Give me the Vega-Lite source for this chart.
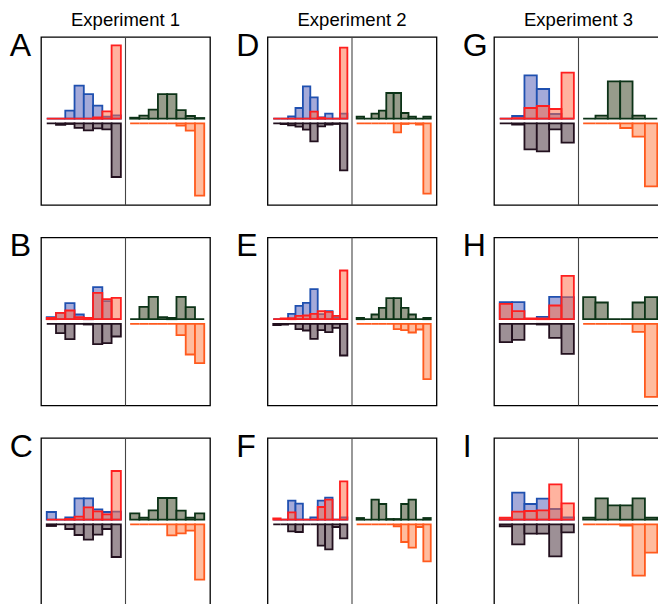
{
"$schema": "https://vega.github.io/schema/vega-lite/v6.json",
"padding": {"left": 9, "top": 10, "right": 0, "bottom": 0},
"bounds": "flush",
"data": {"values": [
{"p":"A","s":"b","i":0,"v":0},{"p":"A","s":"b","i":1,"v":0},{"p":"A","s":"b","i":2,"v":8},{"p":"A","s":"b","i":3,"v":33},{"p":"A","s":"b","i":4,"v":24.6},{"p":"A","s":"b","i":5,"v":13},{"p":"A","s":"b","i":6,"v":2},{"p":"A","s":"b","i":7,"v":3.3},
{"p":"A","s":"r","i":0,"v":0},{"p":"A","s":"r","i":1,"v":0},{"p":"A","s":"r","i":2,"v":0},{"p":"A","s":"r","i":3,"v":0},{"p":"A","s":"r","i":4,"v":0},{"p":"A","s":"r","i":5,"v":1.3},{"p":"A","s":"r","i":6,"v":7.3},{"p":"A","s":"r","i":7,"v":73.3},
{"p":"A","s":"k","i":0,"v":0},{"p":"A","s":"k","i":1,"v":1.5},{"p":"A","s":"k","i":2,"v":0.7},{"p":"A","s":"k","i":3,"v":4.5},{"p":"A","s":"k","i":4,"v":7},{"p":"A","s":"k","i":5,"v":5},{"p":"A","s":"k","i":6,"v":6},{"p":"A","s":"k","i":7,"v":53.7},
{"p":"A","s":"g","i":0,"v":1},{"p":"A","s":"g","i":1,"v":3},{"p":"A","s":"g","i":2,"v":9},{"p":"A","s":"g","i":3,"v":24.5},{"p":"A","s":"g","i":4,"v":24.5},{"p":"A","s":"g","i":5,"v":8.5},{"p":"A","s":"g","i":6,"v":2.7},{"p":"A","s":"g","i":7,"v":0.7},
{"p":"A","s":"o","i":0,"v":0},{"p":"A","s":"o","i":1,"v":0},{"p":"A","s":"o","i":2,"v":0},{"p":"A","s":"o","i":3,"v":0},{"p":"A","s":"o","i":4,"v":0},{"p":"A","s":"o","i":5,"v":2.3},{"p":"A","s":"o","i":6,"v":7.3},{"p":"A","s":"o","i":7,"v":72.3},
{"p":"B","s":"b","i":0,"v":2},{"p":"B","s":"b","i":1,"v":6.3},{"p":"B","s":"b","i":2,"v":16},{"p":"B","s":"b","i":3,"v":4.7},{"p":"B","s":"b","i":4,"v":1.3},{"p":"B","s":"b","i":5,"v":32},{"p":"B","s":"b","i":6,"v":18},{"p":"B","s":"b","i":7,"v":0},
{"p":"B","s":"r","i":0,"v":1.3},{"p":"B","s":"r","i":1,"v":6.3},{"p":"B","s":"r","i":2,"v":8.7},{"p":"B","s":"r","i":3,"v":2},{"p":"B","s":"r","i":4,"v":1.3},{"p":"B","s":"r","i":5,"v":26.3},{"p":"B","s":"r","i":6,"v":20},{"p":"B","s":"r","i":7,"v":21.3},
{"p":"B","s":"k","i":0,"v":0},{"p":"B","s":"k","i":1,"v":9.3},{"p":"B","s":"k","i":2,"v":15.3},{"p":"B","s":"k","i":3,"v":0},{"p":"B","s":"k","i":4,"v":0.7},{"p":"B","s":"k","i":5,"v":20.3},{"p":"B","s":"k","i":6,"v":19.3},{"p":"B","s":"k","i":7,"v":12.7},
{"p":"B","s":"g","i":0,"v":0},{"p":"B","s":"g","i":1,"v":12.3},{"p":"B","s":"g","i":2,"v":22.3},{"p":"B","s":"g","i":3,"v":2},{"p":"B","s":"g","i":4,"v":1.3},{"p":"B","s":"g","i":5,"v":22.3},{"p":"B","s":"g","i":6,"v":12},{"p":"B","s":"g","i":7,"v":0},
{"p":"B","s":"o","i":0,"v":0},{"p":"B","s":"o","i":1,"v":0},{"p":"B","s":"o","i":2,"v":0},{"p":"B","s":"o","i":3,"v":0},{"p":"B","s":"o","i":4,"v":0},{"p":"B","s":"o","i":5,"v":11.3},{"p":"B","s":"o","i":6,"v":30.7},{"p":"B","s":"o","i":7,"v":39.3},
{"p":"C","s":"b","i":0,"v":7.7},{"p":"C","s":"b","i":1,"v":0},{"p":"C","s":"b","i":2,"v":2.3},{"p":"C","s":"b","i":3,"v":21.3},{"p":"C","s":"b","i":4,"v":21.3},{"p":"C","s":"b","i":5,"v":10.3},{"p":"C","s":"b","i":6,"v":7.7},{"p":"C","s":"b","i":7,"v":8},
{"p":"C","s":"r","i":0,"v":0},{"p":"C","s":"r","i":1,"v":0},{"p":"C","s":"r","i":2,"v":0.7},{"p":"C","s":"r","i":3,"v":3},{"p":"C","s":"r","i":4,"v":12.3},{"p":"C","s":"r","i":5,"v":8.3},{"p":"C","s":"r","i":6,"v":5.3},{"p":"C","s":"r","i":7,"v":48.7},
{"p":"C","s":"k","i":0,"v":1.7},{"p":"C","s":"k","i":1,"v":0},{"p":"C","s":"k","i":2,"v":4.7},{"p":"C","s":"k","i":3,"v":10.7},{"p":"C","s":"k","i":4,"v":15.3},{"p":"C","s":"k","i":5,"v":10.3},{"p":"C","s":"k","i":6,"v":4.7},{"p":"C","s":"k","i":7,"v":32.7},
{"p":"C","s":"g","i":0,"v":6.3},{"p":"C","s":"g","i":1,"v":2},{"p":"C","s":"g","i":2,"v":9.3},{"p":"C","s":"g","i":3,"v":21.7},{"p":"C","s":"g","i":4,"v":21.7},{"p":"C","s":"g","i":5,"v":9},{"p":"C","s":"g","i":6,"v":2},{"p":"C","s":"g","i":7,"v":6.3},
{"p":"C","s":"o","i":0,"v":0},{"p":"C","s":"o","i":1,"v":0},{"p":"C","s":"o","i":2,"v":0},{"p":"C","s":"o","i":3,"v":0},{"p":"C","s":"o","i":4,"v":11},{"p":"C","s":"o","i":5,"v":9},{"p":"C","s":"o","i":6,"v":6.3},{"p":"C","s":"o","i":7,"v":55.3},
{"p":"D","s":"b","i":0,"v":0},{"p":"D","s":"b","i":1,"v":0},{"p":"D","s":"b","i":2,"v":2.3},{"p":"D","s":"b","i":3,"v":10.7},{"p":"D","s":"b","i":4,"v":32.3},{"p":"D","s":"b","i":5,"v":21.3},{"p":"D","s":"b","i":6,"v":1.3},{"p":"D","s":"b","i":7,"v":5},{"p":"D","s":"b","i":8,"v":0},{"p":"D","s":"b","i":9,"v":5},
{"p":"D","s":"r","i":0,"v":0},{"p":"D","s":"r","i":1,"v":0},{"p":"D","s":"r","i":2,"v":0},{"p":"D","s":"r","i":3,"v":0},{"p":"D","s":"r","i":4,"v":0},{"p":"D","s":"r","i":5,"v":7},{"p":"D","s":"r","i":6,"v":1},{"p":"D","s":"r","i":7,"v":0},{"p":"D","s":"r","i":8,"v":0},{"p":"D","s":"r","i":9,"v":71},
{"p":"D","s":"k","i":0,"v":0},{"p":"D","s":"k","i":1,"v":0.7},{"p":"D","s":"k","i":2,"v":2},{"p":"D","s":"k","i":3,"v":3.3},{"p":"D","s":"k","i":4,"v":6.3},{"p":"D","s":"k","i":5,"v":18},{"p":"D","s":"k","i":6,"v":3},{"p":"D","s":"k","i":7,"v":1.3},{"p":"D","s":"k","i":8,"v":0.7},{"p":"D","s":"k","i":9,"v":47},
{"p":"D","s":"g","i":0,"v":2},{"p":"D","s":"g","i":1,"v":0},{"p":"D","s":"g","i":2,"v":5},{"p":"D","s":"g","i":3,"v":8},{"p":"D","s":"g","i":4,"v":25.7},{"p":"D","s":"g","i":5,"v":25.7},{"p":"D","s":"g","i":6,"v":5.7},{"p":"D","s":"g","i":7,"v":2},{"p":"D","s":"g","i":8,"v":0},{"p":"D","s":"g","i":9,"v":2},
{"p":"D","s":"o","i":0,"v":0},{"p":"D","s":"o","i":1,"v":0},{"p":"D","s":"o","i":2,"v":0},{"p":"D","s":"o","i":3,"v":0},{"p":"D","s":"o","i":4,"v":0},{"p":"D","s":"o","i":5,"v":9},{"p":"D","s":"o","i":6,"v":0.7},{"p":"D","s":"o","i":7,"v":0},{"p":"D","s":"o","i":8,"v":1.3},{"p":"D","s":"o","i":9,"v":70.3},
{"p":"E","s":"b","i":0,"v":0},{"p":"E","s":"b","i":1,"v":0},{"p":"E","s":"b","i":2,"v":5.3},{"p":"E","s":"b","i":3,"v":13.3},{"p":"E","s":"b","i":4,"v":16.3},{"p":"E","s":"b","i":5,"v":30},{"p":"E","s":"b","i":6,"v":5},{"p":"E","s":"b","i":7,"v":8},{"p":"E","s":"b","i":8,"v":2},{"p":"E","s":"b","i":9,"v":0},
{"p":"E","s":"r","i":0,"v":0},{"p":"E","s":"r","i":1,"v":0.7},{"p":"E","s":"r","i":2,"v":1},{"p":"E","s":"r","i":3,"v":3.3},{"p":"E","s":"r","i":4,"v":3.7},{"p":"E","s":"r","i":5,"v":5.3},{"p":"E","s":"r","i":6,"v":8},{"p":"E","s":"r","i":7,"v":7.3},{"p":"E","s":"r","i":8,"v":3.3},{"p":"E","s":"r","i":9,"v":48.7},
{"p":"E","s":"k","i":0,"v":1.3},{"p":"E","s":"k","i":1,"v":0.7},{"p":"E","s":"k","i":2,"v":0},{"p":"E","s":"k","i":3,"v":5.3},{"p":"E","s":"k","i":4,"v":6.7},{"p":"E","s":"k","i":5,"v":15},{"p":"E","s":"k","i":6,"v":6.3},{"p":"E","s":"k","i":7,"v":8.3},{"p":"E","s":"k","i":8,"v":4},{"p":"E","s":"k","i":9,"v":31.7},
{"p":"E","s":"g","i":0,"v":1.3},{"p":"E","s":"g","i":1,"v":0},{"p":"E","s":"g","i":2,"v":4.7},{"p":"E","s":"g","i":3,"v":11.3},{"p":"E","s":"g","i":4,"v":21},{"p":"E","s":"g","i":5,"v":21},{"p":"E","s":"g","i":6,"v":11.3},{"p":"E","s":"g","i":7,"v":4.7},{"p":"E","s":"g","i":8,"v":0},{"p":"E","s":"g","i":9,"v":1.3},
{"p":"E","s":"o","i":0,"v":0},{"p":"E","s":"o","i":1,"v":0},{"p":"E","s":"o","i":2,"v":0},{"p":"E","s":"o","i":3,"v":0},{"p":"E","s":"o","i":4,"v":0},{"p":"E","s":"o","i":5,"v":5.3},{"p":"E","s":"o","i":6,"v":6.3},{"p":"E","s":"o","i":7,"v":8.7},{"p":"E","s":"o","i":8,"v":5.7},{"p":"E","s":"o","i":9,"v":55.3},
{"p":"F","s":"b","i":0,"v":0},{"p":"F","s":"b","i":1,"v":0},{"p":"F","s":"b","i":2,"v":19},{"p":"F","s":"b","i":3,"v":16},{"p":"F","s":"b","i":4,"v":0},{"p":"F","s":"b","i":5,"v":2.3},{"p":"F","s":"b","i":6,"v":19},{"p":"F","s":"b","i":7,"v":22},{"p":"F","s":"b","i":8,"v":0},{"p":"F","s":"b","i":9,"v":2.3},
{"p":"F","s":"r","i":0,"v":1.3},{"p":"F","s":"r","i":1,"v":0},{"p":"F","s":"r","i":2,"v":7.3},{"p":"F","s":"r","i":3,"v":0},{"p":"F","s":"r","i":4,"v":0},{"p":"F","s":"r","i":5,"v":0},{"p":"F","s":"r","i":6,"v":12.7},{"p":"F","s":"r","i":7,"v":20},{"p":"F","s":"r","i":8,"v":0},{"p":"F","s":"r","i":9,"v":38.3},
{"p":"F","s":"k","i":0,"v":0},{"p":"F","s":"k","i":1,"v":0},{"p":"F","s":"k","i":2,"v":7},{"p":"F","s":"k","i":3,"v":7.7},{"p":"F","s":"k","i":4,"v":0},{"p":"F","s":"k","i":5,"v":0},{"p":"F","s":"k","i":6,"v":21.3},{"p":"F","s":"k","i":7,"v":25},{"p":"F","s":"k","i":8,"v":2.7},{"p":"F","s":"k","i":9,"v":14},
{"p":"F","s":"g","i":0,"v":1.7},{"p":"F","s":"g","i":1,"v":0},{"p":"F","s":"g","i":2,"v":20},{"p":"F","s":"g","i":3,"v":15.7},{"p":"F","s":"g","i":4,"v":0.7},{"p":"F","s":"g","i":5,"v":0.7},{"p":"F","s":"g","i":6,"v":15.7},{"p":"F","s":"g","i":7,"v":20},{"p":"F","s":"g","i":8,"v":0},{"p":"F","s":"g","i":9,"v":1.7},
{"p":"F","s":"o","i":0,"v":0},{"p":"F","s":"o","i":1,"v":0},{"p":"F","s":"o","i":2,"v":0},{"p":"F","s":"o","i":3,"v":0},{"p":"F","s":"o","i":4,"v":0},{"p":"F","s":"o","i":5,"v":2},{"p":"F","s":"o","i":6,"v":17.7},{"p":"F","s":"o","i":7,"v":23.3},{"p":"F","s":"o","i":8,"v":2.7},{"p":"F","s":"o","i":9,"v":37},
{"p":"G","s":"b","i":0,"v":0},{"p":"G","s":"b","i":1,"v":2.7},{"p":"G","s":"b","i":2,"v":43.3},{"p":"G","s":"b","i":3,"v":29.7},{"p":"G","s":"b","i":4,"v":4.7},{"p":"G","s":"b","i":5,"v":0},
{"p":"G","s":"r","i":0,"v":0},{"p":"G","s":"r","i":1,"v":0.5},{"p":"G","s":"r","i":2,"v":10.7},{"p":"G","s":"r","i":3,"v":12.7},{"p":"G","s":"r","i":4,"v":9.7},{"p":"G","s":"r","i":5,"v":46},
{"p":"G","s":"k","i":0,"v":0},{"p":"G","s":"k","i":1,"v":1.3},{"p":"G","s":"k","i":2,"v":26},{"p":"G","s":"k","i":3,"v":28},{"p":"G","s":"k","i":4,"v":6},{"p":"G","s":"k","i":5,"v":19.3},
{"p":"G","s":"g","i":0,"v":0},{"p":"G","s":"g","i":1,"v":3},{"p":"G","s":"g","i":2,"v":37.3},{"p":"G","s":"g","i":3,"v":37.3},{"p":"G","s":"g","i":4,"v":3},{"p":"G","s":"g","i":5,"v":0},
{"p":"G","s":"o","i":0,"v":0},{"p":"G","s":"o","i":1,"v":0},{"p":"G","s":"o","i":2,"v":0},{"p":"G","s":"o","i":3,"v":4.7},{"p":"G","s":"o","i":4,"v":13.3},{"p":"G","s":"o","i":5,"v":63},
{"p":"H","s":"b","i":0,"v":17},{"p":"H","s":"b","i":1,"v":17},{"p":"H","s":"b","i":2,"v":0},{"p":"H","s":"b","i":3,"v":2.3},{"p":"H","s":"b","i":4,"v":22.3},{"p":"H","s":"b","i":5,"v":22},
{"p":"H","s":"r","i":0,"v":15.3},{"p":"H","s":"r","i":1,"v":8},{"p":"H","s":"r","i":2,"v":0.7},{"p":"H","s":"r","i":3,"v":0.7},{"p":"H","s":"r","i":4,"v":13.7},{"p":"H","s":"r","i":5,"v":43.3},
{"p":"H","s":"k","i":0,"v":18.3},{"p":"H","s":"k","i":1,"v":16},{"p":"H","s":"k","i":2,"v":0},{"p":"H","s":"k","i":3,"v":0.7},{"p":"H","s":"k","i":4,"v":14},{"p":"H","s":"k","i":5,"v":30},
{"p":"H","s":"g","i":0,"v":22},{"p":"H","s":"g","i":1,"v":16.7},{"p":"H","s":"g","i":2,"v":0},{"p":"H","s":"g","i":3,"v":0},{"p":"H","s":"g","i":4,"v":16.7},{"p":"H","s":"g","i":5,"v":22},
{"p":"H","s":"o","i":0,"v":0},{"p":"H","s":"o","i":1,"v":0},{"p":"H","s":"o","i":2,"v":0},{"p":"H","s":"o","i":3,"v":0},{"p":"H","s":"o","i":4,"v":8},{"p":"H","s":"o","i":5,"v":73},
{"p":"I","s":"b","i":0,"v":0.7},{"p":"I","s":"b","i":1,"v":27},{"p":"I","s":"b","i":2,"v":15.7},{"p":"I","s":"b","i":3,"v":21},{"p":"I","s":"b","i":4,"v":10.7},{"p":"I","s":"b","i":5,"v":2.3},
{"p":"I","s":"r","i":0,"v":2},{"p":"I","s":"r","i":1,"v":8},{"p":"I","s":"r","i":2,"v":8.7},{"p":"I","s":"r","i":3,"v":9.3},{"p":"I","s":"r","i":4,"v":35.3},{"p":"I","s":"r","i":5,"v":16.3},
{"p":"I","s":"k","i":0,"v":2},{"p":"I","s":"k","i":1,"v":20},{"p":"I","s":"k","i":2,"v":9.3},{"p":"I","s":"k","i":3,"v":9.3},{"p":"I","s":"k","i":4,"v":32},{"p":"I","s":"k","i":5,"v":8},
{"p":"I","s":"g","i":0,"v":2},{"p":"I","s":"g","i":1,"v":21.3},{"p":"I","s":"g","i":2,"v":14.3},{"p":"I","s":"g","i":3,"v":14.3},{"p":"I","s":"g","i":4,"v":21.3},{"p":"I","s":"g","i":5,"v":2},
{"p":"I","s":"o","i":0,"v":0},{"p":"I","s":"o","i":1,"v":0},{"p":"I","s":"o","i":2,"v":0},{"p":"I","s":"o","i":3,"v":1.3},{"p":"I","s":"o","i":4,"v":51.3},{"p":"I","s":"o","i":5,"v":28.3}
]},
"transform": [
{"calculate": "indexof('ABCDEFGHI', datum.p)", "as": "k"},
{"calculate": "'Experiment ' + (floor(datum.k / 3) + 1)", "as": "col"},
{"calculate": "datum.k % 3", "as": "row"},
{"calculate": "datum.k < 3 ? 8 : (datum.k < 6 ? 10 : 6)", "as": "n"},
{"calculate": "(datum.s == 'g' || datum.s == 'o' ? 9 : 0) + datum.i * 8 / datum.n", "as": "x0"},
{"calculate": "datum.x0 + 8 / datum.n", "as": "x1"},
{"calculate": "datum.s == 'k' || datum.s == 'o' ? -datum.v : datum.v", "as": "y"}
],
"facet": {
"column": {"field": "col", "type": "nominal", "title": null, "header": {"labelFontSize": 18.5, "labelFont": "Liberation Sans", "labelColor": "#000", "labelPadding": 8}},
"row": {"field": "row", "type": "ordinal", "title": null, "header": {"labels": false, "title": null}}
},
"spacing": {"column": 57.5, "row": 32.5},
"spec": {
"width": 169, "height": 168,
"layer": [
{"transform": [{"filter": "datum.s == 'b'"}], "mark": {"type": "bar", "fill": "#a5aad9", "stroke": "#1f50b0", "strokeWidth": 1.8, "yOffset": -2.3, "y2Offset": -2.3},
 "encoding": {"x": {"field": "x0", "type": "quantitative", "scale": {"domain": [-0.62, 17.62], "nice": false, "zero": false}, "axis": null}, "x2": {"field": "x1"}, "y": {"field": "y", "type": "quantitative", "scale": {"domain": [-84, 84], "nice": false, "zero": false}, "axis": null}, "y2": {"datum": 0}}},
{"transform": [{"filter": "datum.s == 'r'"}], "mark": {"type": "bar", "fill": "#ff6e46", "fillOpacity": 0.52, "stroke": "#ff1f1f", "strokeWidth": 1.8, "yOffset": -2.3, "y2Offset": -2.3},
 "encoding": {"x": {"field": "x0", "type": "quantitative", "axis": null}, "x2": {"field": "x1"}, "y": {"field": "y", "type": "quantitative", "axis": null}, "y2": {"datum": 0}}},
{"transform": [{"filter": "datum.s == 'g'"}], "mark": {"type": "bar", "fill": "#979c8b", "stroke": "#0c3317", "strokeWidth": 1.8, "yOffset": -2.3, "y2Offset": -2.3},
 "encoding": {"x": {"field": "x0", "type": "quantitative", "axis": null}, "x2": {"field": "x1"}, "y": {"field": "y", "type": "quantitative", "axis": null}, "y2": {"datum": 0}}},
{"transform": [{"filter": "datum.s == 'k'"}], "mark": {"type": "bar", "fill": "#9d9096", "stroke": "#22101e", "strokeWidth": 1.8, "yOffset": 2.3, "y2Offset": 2.3},
 "encoding": {"x": {"field": "x0", "type": "quantitative", "axis": null}, "x2": {"field": "x1"}, "y": {"field": "y", "type": "quantitative", "axis": null}, "y2": {"datum": 0}}},
{"transform": [{"filter": "datum.s == 'o'"}], "mark": {"type": "bar", "fill": "#ffbc9e", "stroke": "#ff5a1e", "strokeWidth": 1.8, "yOffset": 2.3, "y2Offset": 2.3},
 "encoding": {"x": {"field": "x0", "type": "quantitative", "axis": null}, "x2": {"field": "x1"}, "y": {"field": "y", "type": "quantitative", "axis": null}, "y2": {"datum": 0}}},
{"transform": [{"aggregate": [{"op": "count", "as": "c"}], "groupby": ["col", "row", "p"]}], "mark": {"type": "rule", "color": "#444", "strokeWidth": 1.1},
 "encoding": {"x": {"datum": 8.5, "type": "quantitative"}}},
{"transform": [{"aggregate": [{"op": "count", "as": "c"}], "groupby": ["col", "row", "p"]}], "mark": {"type": "text", "align": "left", "baseline": "alphabetic", "fontSize": 32, "font": "Liberation Sans", "color": "#000"},
 "encoding": {"x": {"datum": -4.0, "type": "quantitative"}, "y": {"datum": 65.5, "type": "quantitative"}, "text": {"field": "p"}}}
]
},
"config": {"view": {"stroke": "#000", "strokeWidth": 1.3}, "font": "Liberation Sans", "header": {"labelFontSize": 18.5, "labelFont": "Liberation Sans", "labelColor": "#000"}}
}
